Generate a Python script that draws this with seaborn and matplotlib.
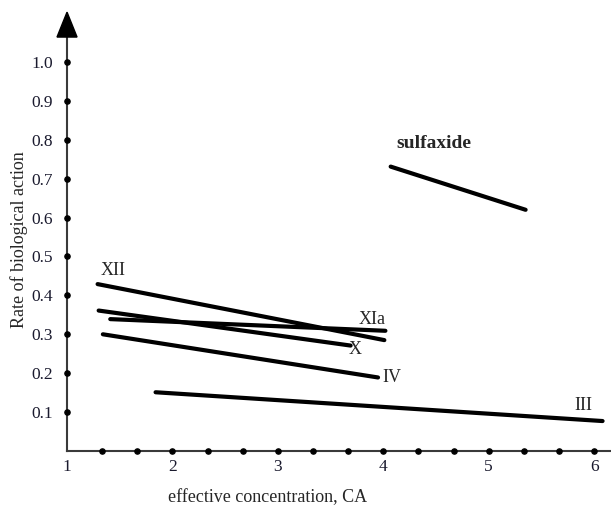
import matplotlib
matplotlib.use('Agg')

import numpy as np
import pandas as pd
import matplotlib.pyplot as plt
import seaborn as sns

# line segments: start and end of each compound
compounds = ["XII", "X", "XIa", "IV", "III", "sulfaxide"]
x_start = [1.29, 1.30, 1.41, 1.34, 1.84, 4.07]
x_end = [4.01, 3.69, 4.02, 3.95, 6.08, 5.35]
y_start = [0.429, 0.361, 0.339, 0.300, 0.151, 0.731]
y_end = [0.285, 0.271, 0.309, 0.189, 0.077, 0.620]

x_ticks = [1, 2, 3, 4, 5, 6]
y_ticks = [0.1, 0.2, 0.3, 0.4, 0.5, 0.6, 0.7, 0.8, 0.9, 1.0]

rows = []
for name, xs, xe, ys, ye in zip(compounds, x_start, x_end, y_start, y_end):
    rows.append({"compound": name, "x": xs, "y": ys})
    rows.append({"compound": name, "x": xe, "y": ye})
df = pd.DataFrame(rows)

sns.set_style("white")
plt.rcParams['font.family'] = ['Liberation Serif', 'DejaVu Serif']

fig = plt.figure(figsize=(6.11, 5.08), dpi=100)
ax = fig.add_axes([0.1097, 0.1122, 0.8903, 0.8654])

sns.lineplot(data=df, x="x", y="y", hue="compound", estimator=None, sort=False,
             palette={c: "black" for c in compounds}, linewidth=3, legend=False, ax=ax)

ax.set_xlim(1, 6.16)
ax.set_ylim(0, 1.13)

# axes with dotted tick marks and an arrow on top
for s in ["top", "right"]:
    ax.spines[s].set_visible(False)
for s in ["left", "bottom"]:
    ax.spines[s].set_color("#3a3a3a")
    ax.spines[s].set_linewidth(1.5)
ax.spines["left"].set_bounds(0, 1.07)

minor_x = np.arange(1 + 1/3, 6.1, 1/3)
ax.scatter(minor_x, np.zeros_like(minor_x), s=14, color="black", clip_on=False, zorder=5)
ax.scatter(np.ones(len(y_ticks)), y_ticks, s=14, color="black", clip_on=False, zorder=5)
ax.fill([0.905, 1.095, 1.0], [1.064, 1.064, 1.128], color="black", clip_on=False, zorder=5)

ax.set_xticks(x_ticks)
ax.set_xticklabels([str(v) for v in x_ticks])
ax.set_yticks(y_ticks)
ax.set_yticklabels([f"{v:.1f}" for v in y_ticks])
ax.tick_params(axis="both", length=0, labelsize=12.5, colors="#1a1a2e")
ax.tick_params(axis="y", pad=10)
ax.tick_params(axis="x", pad=6)

ax.set_xlabel("effective concentration, CA", fontsize=13, va="center")
ax.xaxis.set_label_coords(0.369, -0.107)
ax.set_ylabel("Rate of biological action", fontsize=13, va="center")
ax.yaxis.set_label_coords(-0.088, 0.48)

# compound labels
labels = {
    "XII": (1.44, 0.464, "normal", 13),
    "XIa": (3.89, 0.339, "normal", 13),
    "X": (3.73, 0.262, "normal", 13),
    "IV": (4.08, 0.188, "normal", 13),
    "III": (5.90, 0.116, "normal", 13),
    "sulfaxide": (4.48, 0.79, "bold", 14),
}
for name, (lx, ly, w, fs) in labels.items():
    ax.text(lx, ly, name, ha="center", va="center", fontsize=fs, fontweight=w)

plt.savefig("out.png", dpi=100)
